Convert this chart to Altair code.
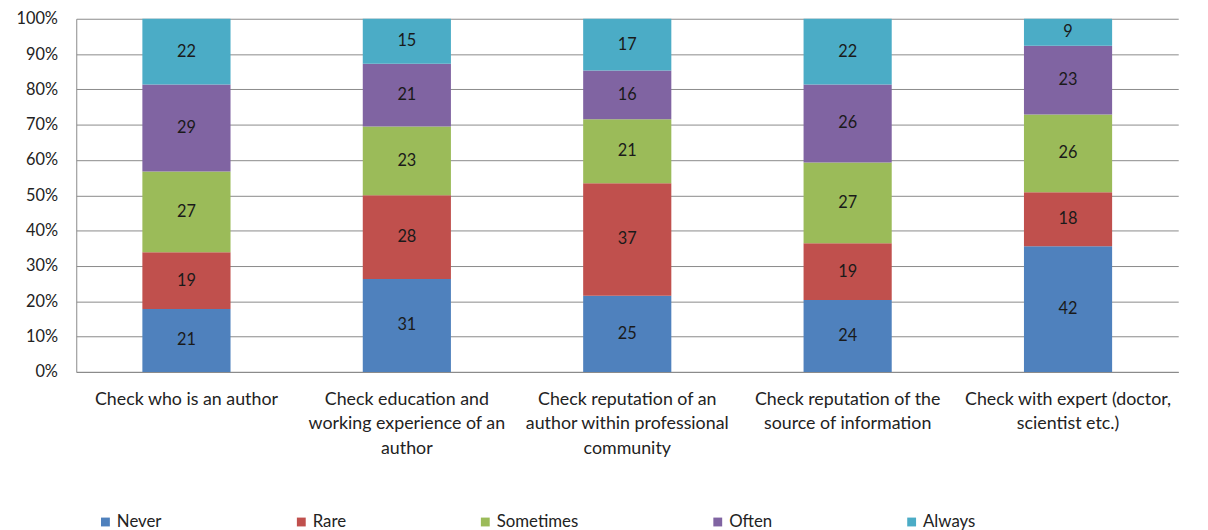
import altair as alt
import pandas as pd

categories = [
    "Check who is an author",
    "Check education and|working experience of an|author",
    "Check reputation of an|author within professional|community",
    "Check reputation of the|source of information",
    "Check with expert (doctor,|scientist etc.)",
]
series = ["Never", "Rare", "Sometimes", "Often", "Always"]
never = [21, 31, 25, 24, 42]
rare = [19, 28, 37, 19, 18]
sometimes = [27, 23, 21, 27, 26]
often = [29, 21, 16, 26, 23]
always = [22, 15, 17, 22, 9]
colors = ["#4F81BD", "#C0504D", "#9BBB59", "#8064A2", "#4BACC6"]
ytick_values = [0, 0.1, 0.2, 0.3, 0.4, 0.5, 0.6, 0.7, 0.8, 0.9, 1.0]

rows = []
for si, (name, vals) in enumerate(zip(series, [never, rare, sometimes, often, always])):
    for c, v in zip(categories, vals):
        rows.append({"category": c, "series": name, "order": si, "value": v})
df = pd.DataFrame(rows)

FONT = "Lato"

base = alt.Chart(df).transform_stack(
    stack="value",
    as_=["y0", "y1"],
    groupby=["category"],
    sort=[alt.SortField("order", order="ascending")],
    offset="normalize",
).transform_calculate(ymid="(datum.y0 + datum.y1) / 2")

xaxis = alt.Axis(
    labelExpr="split(datum.label, '|')",
    labelAngle=0,
    labelFont=FONT,
    labelFontSize=18,
    labelColor="#222222",
    labelPadding=19,
    labelLineHeight=24.5,
    labelLimit=300,
    ticks=False,
    domainColor="#8a8a8a",
    labelBaseline="top",
)
xscale = alt.Scale(paddingInner=0.6, paddingOuter=0.3, range=[0, 1114])

yaxis = alt.Axis(
    format=".0%",
    values=ytick_values,
    labelOverlap=False,
    labelFont=FONT,
    labelFontSize=16.5,
    labelColor="#222222",
    labelPadding=19,
    ticks=False,
    gridColor="#8a8a8a",
    gridWidth=1,
    domainColor="#8a8a8a",
    minExtent=56,
    maxExtent=56,
)
yscale = alt.Scale(domain=[0, 1], nice=False)

bars = base.mark_bar().encode(
    x=alt.X("category:N", sort=categories, title=None, scale=xscale, axis=xaxis),
    y=alt.Y("y0:Q", title=None, scale=yscale, axis=yaxis),
    y2="y1:Q",
    color=alt.Color(
        "series:N",
        sort=series,
        scale=alt.Scale(domain=series, range=colors),
        legend=alt.Legend(
            title=None,
            orient="none",
            legendX=21,
            legendY=500,
            direction="horizontal",
            columns=5,
            columnPadding=132,
            symbolType="square",
            symbolSize=80,
            symbolStrokeWidth=0,
            symbolOpacity=1,
            labelFont=FONT,
            labelFontSize=17,
            labelColor="#222222",
            labelOffset=3,
        ),
    ),
    order=alt.Order("order:Q"),
)

texts = base.mark_text(font=FONT, fontSize=16.5, color="#1a1a1a").encode(
    x=alt.X("category:N", sort=categories, title=None, scale=xscale, axis=xaxis),
    y=alt.Y("ymid:Q", title=None, scale=yscale, axis=yaxis),
    text=alt.Text("value:Q"),
)

chart = (
    alt.layer(bars, texts)
    .properties(
        width=1136,
        height=357,
        padding={"left": 8, "top": 0, "right": 0, "bottom": 0},
    )
    .configure_view(stroke=None)
    .configure_axis(gridColor="#8a8a8a")
)

chart.save("out.html", embed_options={"renderer": "svg", "actions": False})
